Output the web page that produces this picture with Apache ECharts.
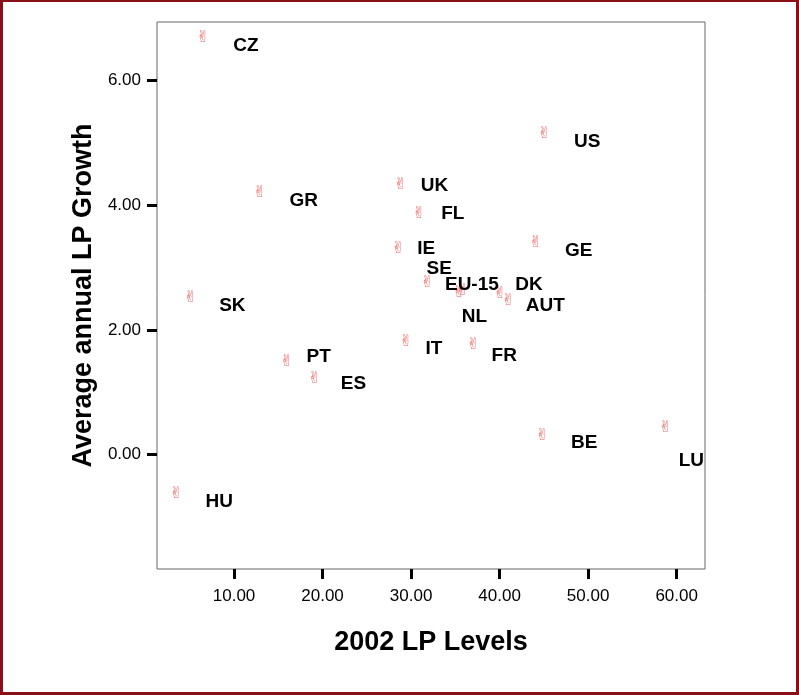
<!DOCTYPE html>
<html>
<head>
<meta charset="utf-8">
<script src="https://cdn.jsdelivr.net/npm/echarts@6/dist/echarts.min.js"></script>
<style>
  html, body { margin: 0; padding: 0; background: #fff; }
  #wrap { position: relative; width: 799px; height: 695px; }
  #chart { position: absolute; left: 0; top: 0; width: 799px; height: 695px; }
  #frame {
    position: absolute; left: 0; top: 0; width: 799px; height: 695px;
    box-sizing: border-box; border: 3px solid #8a1018; border-top-width: 2px;
    pointer-events: none;
  }
</style>
</head>
<body>
<div id="wrap"><div id="chart"></div><div id="frame"></div></div>
<script>
// Labour productivity: 2002 level vs. average annual growth, by country
const countries = ['CZ', 'GR', 'SK', 'PT', 'ES', 'US', 'GE', 'UK', 'FL', 'IE',
                   'SE', 'EU-15', 'NL', 'DK', 'AUT', 'IT', 'FR', 'BE', 'LU', 'HU'];
const lpLevels2002 = [6.49, 12.90, 5.07, 15.95, 19.09, 45.05, 44.07, 28.81, 30.88, 28.54,
                      31.82, 35.40, 35.80, 40.04, 40.98, 29.41, 37.02, 44.82, 58.73, 3.47];
const lpGrowth = [6.68, 4.19, 2.51, 1.49, 1.22, 5.14, 3.39, 4.32, 3.85, 3.29,
                  2.76, 2.59, 2.63, 2.57, 2.46, 1.80, 1.76, 0.30, 0.43, -0.63];
const xTickValues = [10, 20, 30, 40, 50, 60];
const yTickValues = [0, 2, 4, 6];

// Where each country's name sits relative to its marker (px)
const labelOffsets = {
  'CZ': [43, 8], 'GR': [44, 8], 'SK': [42, 8], 'PT': [32, -5], 'ES': [39, 5],
  'US': [43, 8], 'GE': [43, 8], 'UK': [34, 1], 'FL': [34, -1], 'IE': [28, -1],
  'SE': [12, -14], 'EU-15': [13, -8], 'NL': [12, 26], 'DK': [29, -9], 'AUT': [37, 5],
  'IT': [28, 6], 'FR': [31, 11], 'BE': [42, 7], 'LU': [26, 33], 'HU': [43, 8]
};

const FONT = "'Liberation Sans', Arial, sans-serif";

const points = countries.map((c, i) => ({
  name: c,
  value: [lpLevels2002[i], lpGrowth[i]]
}));

const namedPoints = countries.map((c, i) => ({
  name: c,
  value: [lpLevels2002[i], lpGrowth[i]],
  label: { offset: labelOffsets[c] }
}));

const chart = echarts.init(document.getElementById('chart'), null, { renderer: 'canvas' });

chart.setOption({
  animation: false,
  backgroundColor: '#fff',
  grid: {
    left: 157, top: 22, right: 94, bottom: 126,
    show: true, borderColor: '#666', borderWidth: 1, backgroundColor: '#fff'
  },
  xAxis: {
    type: 'value',
    min: 1.3, max: 63.2,
    name: '2002 LP Levels',
    nameLocation: 'middle',
    nameGap: 60,
    nameTextStyle: { fontFamily: FONT, fontSize: 27, fontWeight: 'bold', color: '#000' },
    axisLine: { show: false, onZero: false },
    splitLine: { show: false },
    axisTick: {
      show: true, inside: false, length: 10, customValues: xTickValues,
      lineStyle: { color: '#000', width: 3 }
    },
    axisLabel: {
      customValues: xTickValues, margin: 19,
      fontFamily: FONT, fontSize: 17, color: '#000',
      formatter: v => v.toFixed(2)
    }
  },
  yAxis: {
    type: 'value',
    min: -1.83, max: 6.93,
    name: 'Average annual LP Growth',
    nameLocation: 'middle',
    nameRotate: 90,
    nameGap: 60,
    nameTextStyle: { fontFamily: FONT, fontSize: 27, fontWeight: 'bold', color: '#000' },
    axisLine: { show: false, onZero: false },
    splitLine: { show: false },
    axisTick: {
      show: true, inside: false, length: 10, customValues: yTickValues,
      lineStyle: { color: '#000', width: 3 }
    },
    axisLabel: {
      customValues: yTickValues, margin: 16,
      fontFamily: FONT, fontSize: 17, color: '#000',
      formatter: v => v.toFixed(2)
    }
  },
  series: [
    {
      // hand-glyph markers
      type: 'scatter',
      data: points,
      symbolSize: 1,
      itemStyle: { color: 'rgba(0,0,0,0)', opacity: 1 },
      silent: true,
      label: {
        show: true,
        position: 'inside',
        formatter: '\u270C',
        fontFamily: "'DejaVu Sans', sans-serif",
        fontSize: 16,
        color: '#f06a6a',
        textBorderWidth: 0
      },
      emphasis: { disabled: true }
    },
    {
      // country names
      type: 'scatter',
      data: namedPoints,
      symbolSize: 1,
      itemStyle: { color: 'rgba(0,0,0,0)', opacity: 1 },
      silent: true,
      label: {
        show: true,
        position: 'inside',
        formatter: p => p.name,
        fontFamily: FONT,
        fontSize: 19,
        fontWeight: 'bold',
        color: '#000',
        textBorderWidth: 0
      },
      emphasis: { disabled: true }
    }
  ]
});
</script>
</body>
</html>
